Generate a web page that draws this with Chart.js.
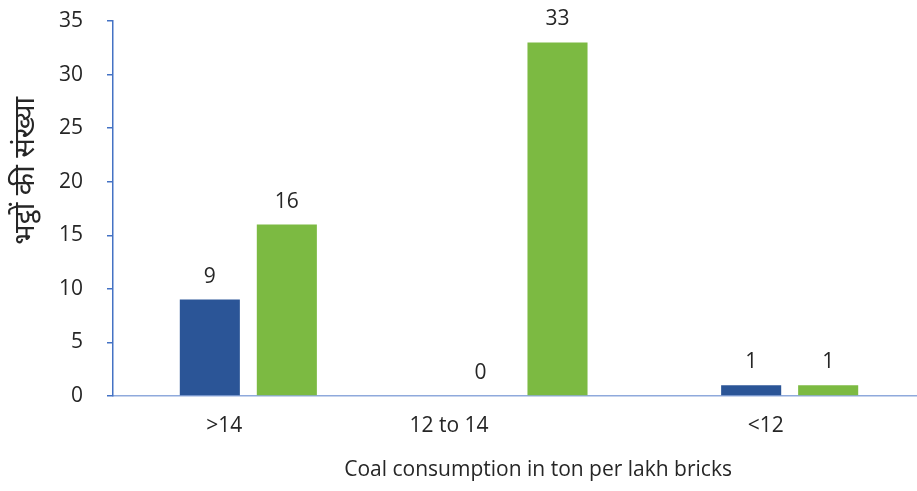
<!DOCTYPE html>
<html>
<head>
<meta charset="utf-8">
<script src="https://cdn.jsdelivr.net/npm/chart.js@4.4.1/dist/chart.umd.min.js"></script>
<style>
  html, body { margin: 0; padding: 0; background: #ffffff; overflow: hidden; }
  #wrap { position: relative; width: 925px; height: 491px; }
</style>
</head>
<body>
<div id="wrap"><canvas id="c"></canvas></div>
<script>
const categories = [">14", "12 to 14", "<12"];
const seriesBlue = [9, 0, 1];
const seriesGreen = [16, 33, 1];
const yTicks = [0, 5, 10, 15, 20, 25, 30, 35];
const xTitle = "Coal consumption in ton per lakh bricks";
const yTitle = "भट्ठों की संख्या";

const FONT = "'Open Sans', 'Noto Sans', 'Noto Sans Devanagari', sans-serif";
const TEXT = "#262626";
const labelOffsets = [-24, -70, -24];

const overlay = {
  id: "overlay",
  afterDatasetsDraw(chart) {
    const ctx = chart.ctx;
    ctx.save();
    ctx.font = "21px " + FONT;
    ctx.fillStyle = TEXT;
    ctx.textAlign = "center";
    ctx.textBaseline = "alphabetic";
    chart.data.datasets.forEach((ds, di) => {
      const meta = chart.getDatasetMeta(di);
      meta.data.forEach((bar, i) => {
        ctx.fillText(String(ds.data[i]), bar.x, bar.y - 17);
      });
    });
    const xs = chart.scales.x;
    categories.forEach((c, i) => {
      const px = xs.getPixelForTick(i) + labelOffsets[i];
      ctx.fillText(c, px, 432);
    });
    ctx.restore();
  }
};

new Chart(document.getElementById("c"), {
  type: "bar",
  data: {
    labels: categories,
    datasets: [
      { label: "A", data: seriesBlue, backgroundColor: "#2B5597", borderWidth: 0,
        categoryPercentage: 0.569, barPercentage: 0.78 },
      { label: "B", data: seriesGreen, backgroundColor: "#7CBA42", borderWidth: 0,
        categoryPercentage: 0.569, barPercentage: 0.78 }
    ]
  },
  options: {
    responsive: true,
    maintainAspectRatio: false,
    animation: false,
    layout: { padding: { top: 21, right: 0, bottom: 0, left: 0 } },
    plugins: { legend: { display: false }, tooltip: { enabled: false } },
    scales: {
      x: {
        grid: { display: false, drawTicks: false },
        border: { display: true, color: "#8FAADC", width: 1.5 },
        ticks: { display: false },
        title: { display: true, text: "\u00a0\u00a0\u00a0\u00a0\u00a0\u00a0\u00a0" + xTitle, color: TEXT,
                 font: { family: FONT, size: 21 }, padding: { top: 0, bottom: 8 } },
        afterFit: s => { s.height = 95; s.paddingLeft = 0; s.paddingRight = 0; }
      },
      y: {
        min: 0, max: 35,
        afterBuildTicks: s => { s.ticks = yTicks.map(v => ({ value: v })); },
        grid: { display: true, drawOnChartArea: false, drawTicks: true, tickLength: 6,
                color: "#4472C4", lineWidth: 1.5 },
        border: { display: true, color: "#4472C4", width: 1.5 },
        ticks: { color: TEXT, font: { family: FONT, size: 21 }, padding: 24 },
        title: { display: true, text: "\u00a0\u00a0\u00a0\u00a0\u00a0\u00a0\u00a0\u00a0\u00a0\u00a0" + yTitle, color: TEXT,
                 font: { family: FONT, size: 29 }, padding: { top: 8, bottom: 0 } },
        afterFit: s => { s.width = 113; s.paddingTop = 0; s.paddingBottom = 0; }
      }
    }
  },
  plugins: [overlay]
});
</script>
</body>
</html>
